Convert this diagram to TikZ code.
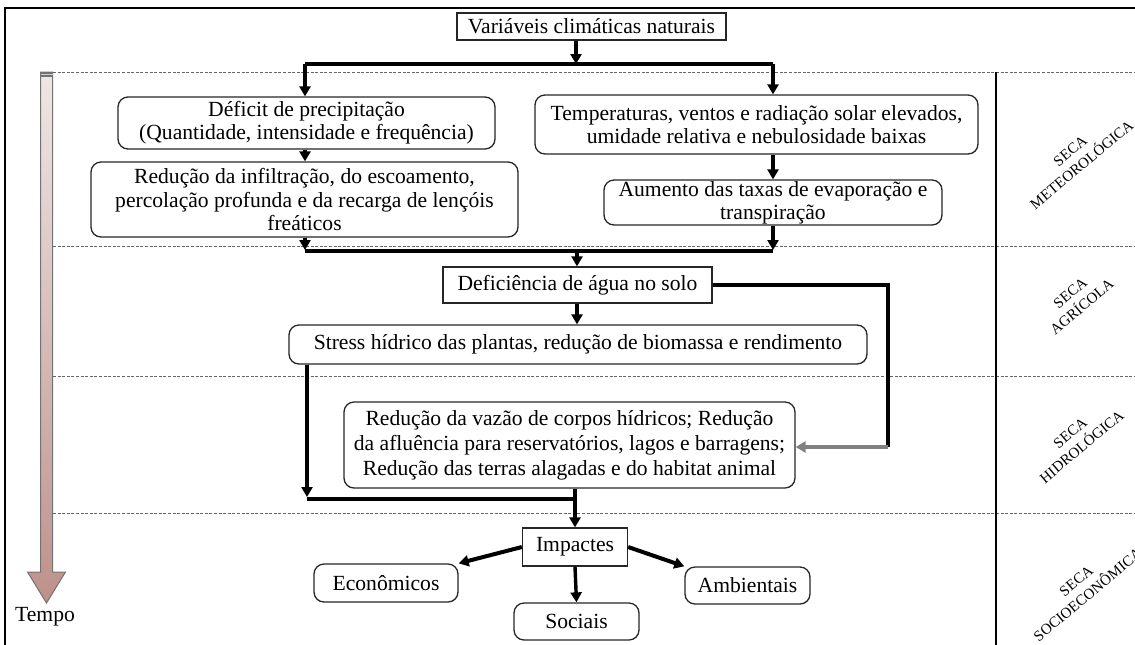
\documentclass[tikz,border=0pt]{standalone}
\usepackage{fontspec}
\setmainfont{Liberation Serif}
\usetikzlibrary{arrows.meta}
\definecolor{arrtop}{HTML}{EFE7E5}
\definecolor{arrbot}{HTML}{BD918A}
\begin{document}
\begin{tikzpicture}[x=0.5pt,y=-0.5pt,
  box/.style={draw=black!85, line width=0.65pt, fill=white, align=center, inner sep=1pt, font=\fontsize{10.8}{11.6}\selectfont},
  rbox/.style={box, rounded corners=5pt},
  conn/.style={line width=1.7pt, black},
  arr/.style={conn, -{Triangle[length=5pt,width=5.5pt]}},
  band/.style={draw=black!60, line width=0.4pt, dash pattern=on 1.5pt off 0.8pt},
  lbl/.style={font=\fontsize{7.5}{9}\selectfont, align=center, rotate=40, inner sep=0pt}
]
\useasboundingbox (0,0) rectangle (1135,644);
\clip (0,0) rectangle (1135,644);

% frame and bands
\draw[line width=1pt] (5,650) -- (5,8) -- (1140,8);
\foreach \yy in {72,246,376,513} \draw[band] (53,\yy) -- (1135,\yy);
\draw[line width=1pt] (996,72) -- (996,650);

% time arrow
\shade[top color=arrtop, bottom color=arrbot, draw=black!55, line width=0.5pt]
  (40.5,72) -- (52.5,72) -- (52.5,572) -- (65.5,572) -- (46.5,603) -- (27.5,572) -- (40.5,572) -- cycle;
\fill[black!55] (40.5,72) rectangle (52.5,77);
\draw[black!20, line width=0.4pt] (40.5,74.5) -- (52.5,74.5);
\node[font=\fontsize{10.8}{12}\selectfont, inner sep=0pt] (tempo) at (45,617) {Tempo};

% nodes
\node[box, minimum width=134.5pt, minimum height=13.5pt] (title) at (591.5,26.5) {Variáveis climáticas naturais};
\node[rbox, minimum width=188.5pt, minimum height=26pt] (def) at (306.5,123) {Déficit de precipitação\\(Quantidade, intensidade e frequência)};
\node[rbox, minimum width=213.5pt, minimum height=37.5pt] (red) at (304.5,199.5) {Redução da infiltração, do escoamento,\\percolação profunda e da recarga de lençóis\\freáticos};
\node[rbox, minimum width=221.5pt, minimum height=29.5pt] (temp) at (756.5,124.5) {Temperaturas, ventos e radiação solar elevados,\\umidade relativa e nebulosidade baixas};
\node[rbox, minimum width=169pt, minimum height=22.5pt, inner sep=0.3pt] (aum) at (773,202.5) {Aumento das taxas de evaporação e\\transpiração};
\node[box, minimum width=134.5pt, minimum height=18pt] (defa) at (577.5,285) {Deficiência de água no solo};
\node[rbox, minimum width=289pt, minimum height=19.5pt] (str) at (578,344.5) {Stress hídrico das plantas, redução de biomassa e rendimento};
\node[rbox, minimum width=225.5pt, minimum height=43pt, font=\fontsize{10.8}{12.5}\selectfont] (hid) at (569.5,445) {Redução da vazão de corpos hídricos; Redução\\da afluência para reservatórios, lagos e barragens;\\Redução das terras alagadas e do habitat animal};
\node[box, minimum width=52.5pt, minimum height=19pt] (imp) at (575,547) {Impactes};
\node[rbox, minimum width=72pt, minimum height=19pt] (eco) at (386,583) {Econômicos};
\node[rbox, minimum width=62.5pt, minimum height=18.5pt] (soc) at (576.5,621.5) {Sociais};
\node[rbox, minimum width=62.5pt, minimum height=18.5pt] (amb) at (747.5,585.5) {Ambientais};

% band labels
\node[lbl] (l1) at (1076,158) {SECA\\METEOROLÓGICA};
\node[lbl] (l2) at (1076,300) {SECA\\AGRÍCOLA};
\node[lbl] (l3) at (1076,440) {SECA\\HIDROLÓGICA};
\node[lbl] (l4) at (1082,588) {SECA\\SOCIOECONÔMICA};

% junction coordinates
\coordinate (j1) at (576,64);
\coordinate (j1l) at (305,64);
\coordinate (j1r) at (773,64);
\coordinate (j2l) at (305,251);
\coordinate (j2r) at (773,251);
\coordinate (j2m) at (577,251);
\coordinate (k1) at (888,285);
\coordinate (k2) at (888,447);
\coordinate (m1) at (307,497);
\coordinate (m2) at (307,499);
\coordinate (m3) at (575,499);

% connectors
\draw[arr] (j1 |- title.south) -- (j1);
\draw[conn] (j1l) -- (j1r);
\draw[arr] (j1l) -- (j1l |- def.north);
\draw[arr] (j1r) -- (j1r |- temp.north);
\draw[arr] (j1l |- def.south) -- (j1l |- red.north);
\draw[arr] (aum.north |- temp.south) -- (aum.north);
\draw[arr] (j2l |- red.south) -- ([yshift=0.5pt]j2l);
\draw[arr] (aum.south) -- ([yshift=0.5pt]j2r);
\draw[conn] (j2l) -- (j2r);
\draw[arr] (j2m) -- (j2m |- defa.north);
\draw[arr] (j2m |- defa.south) -- (j2m |- str.north);
\draw[conn] (defa.east) -- (k1) -- (k2);
\draw[conn, gray, -{Triangle[length=5pt,width=5.5pt]}] (k2) -- (hid.east |- k2);
\draw[arr] (m1 |- str.south) -- (m1);
\draw[conn] (m2) -- (m3);
\draw[arr] (imp.north |- hid.south) -- (imp.north);
\draw[arr, line width=2pt] (imp.west) -- (eco.north east);
\draw[arr, line width=2pt] (imp.east) -- (amb.north west);
\draw[arr] (imp.south) -- (soc.north);
\end{tikzpicture}
\end{document}
